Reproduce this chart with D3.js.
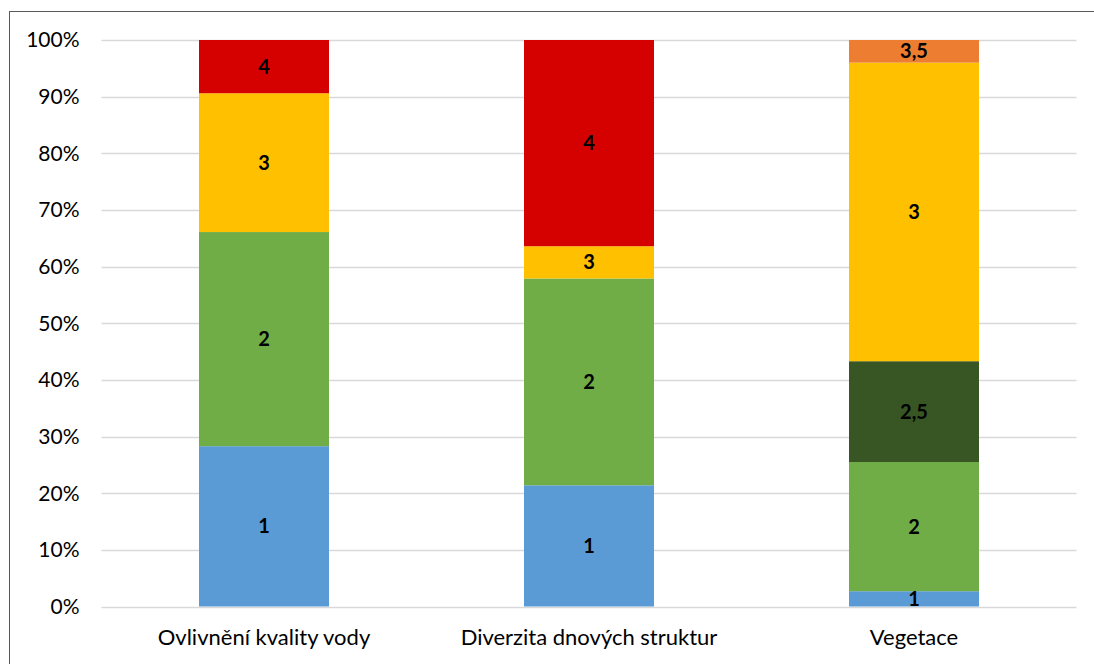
<!DOCTYPE html>
<html>
<head>
<meta charset="utf-8">
<script src="https://cdn.jsdelivr.net/npm/d3@7"></script>
<style>
  body { margin: 0; background: #fff; }
  svg { display: block; font-family: Lato, "Open Sans", sans-serif; }
</style>
</head>
<body>
<div id="chart"></div>
<script>
// Categories and stacked shares (percent)
var categories = ["Ovlivnění kvality vody", "Diverzita dnových struktur", "Vegetace"];
var classes = ["1", "2", "2,5", "3", "3,5", "4"];
var share1 = [28.3, 21.4, 2.7];
var share2 = [37.8, 36.5, 22.8];
var share25 = [0, 0, 17.8];
var share3 = [24.5, 5.7, 52.7];
var share35 = [0, 0, 4.0];
var share4 = [9.4, 36.4, 0];
var yTicks = [0, 10, 20, 30, 40, 50, 60, 70, 80, 90, 100];

var colors = ["#5B9BD5", "#70AD47", "#375623", "#FFC000", "#ED7D31", "#D50000"];
var series = [share1, share2, share25, share3, share35, share4];

var W = 1094, H = 664;
var margin = { top: 40, right: 17.5, bottom: 57.5, left: 101.5 },
    width = W - margin.left - margin.right,
    height = H - margin.top - margin.bottom;

const svg = d3.select("#chart").append("svg")
    .attr("width", W)
    .attr("height", H);

// chart frame
svg.append("rect")
    .attr("x", 9.5).attr("y", 11.5)
    .attr("width", W).attr("height", H)
    .attr("fill", "none")
    .attr("stroke", "#595959")
    .attr("stroke-width", 1);

const g = svg.append("g")
    .attr("transform", "translate(" + margin.left + "," + margin.top + ")");

const x = d3.scaleBand().domain(categories).range([0, width]).paddingInner(0.6).paddingOuter(0.3);
const y = d3.scaleLinear().domain([0, 100]).range([height, 0]);

// gridlines
g.selectAll("line.grid").data(yTicks).enter().append("line")
    .attr("x1", 0).attr("x2", width)
    .attr("y1", d => Math.round(y(d)) + 0.5).attr("y2", d => Math.round(y(d)) + 0.5)
    .attr("stroke", "#D9D9D9").attr("stroke-width", 1.3);

// y axis labels
g.selectAll("text.ytick").data(yTicks).enter().append("text")
    .attr("x", -22).attr("y", d => y(d))
    .attr("dy", "0.35em")
    .attr("text-anchor", "end")
    .style("font-size", "21px").attr("fill", "#000")
    .text(d => d + "%");

// stacks
var rows = categories.map(function (c, i) {
    var o = { cat: c };
    classes.forEach(function (k, j) { o[k] = series[j][i]; });
    return o;
});
var stacked = d3.stack().keys(classes)(rows);

stacked.forEach(function (layer, j) {
    layer.forEach(function (d) {
        var v = d[1] - d[0];
        if (v <= 0) return;
        var cx = x(d.data.cat);
        g.append("rect")
            .attr("x", cx).attr("width", x.bandwidth())
            .attr("y", y(d[1])).attr("height", y(d[0]) - y(d[1]))
            .attr("fill", colors[j]);
    });
});

// segment labels
stacked.forEach(function (layer, j) {
    layer.forEach(function (d) {
        var v = d[1] - d[0];
        if (v <= 0) return;
        g.append("text")
            .attr("x", x(d.data.cat) + x.bandwidth() / 2)
            .attr("y", y((d[0] + d[1]) / 2))
            .attr("dy", "0.35em")
            .attr("text-anchor", "middle")
            .style("font-size", "20px").style("font-weight", "bold")
            .attr("fill", "#000")
            .text(classes[j]);
    });
});

// category labels
g.selectAll("text.cat").data(categories).enter().append("text")
    .attr("x", d => x(d) + x.bandwidth() / 2)
    .attr("y", height + 31)
    .attr("dy", "0.35em")
    .attr("text-anchor", "middle")
    .style("font-size", "22px").attr("fill", "#000")
    .text(d => d);
</script>
</body>
</html>
